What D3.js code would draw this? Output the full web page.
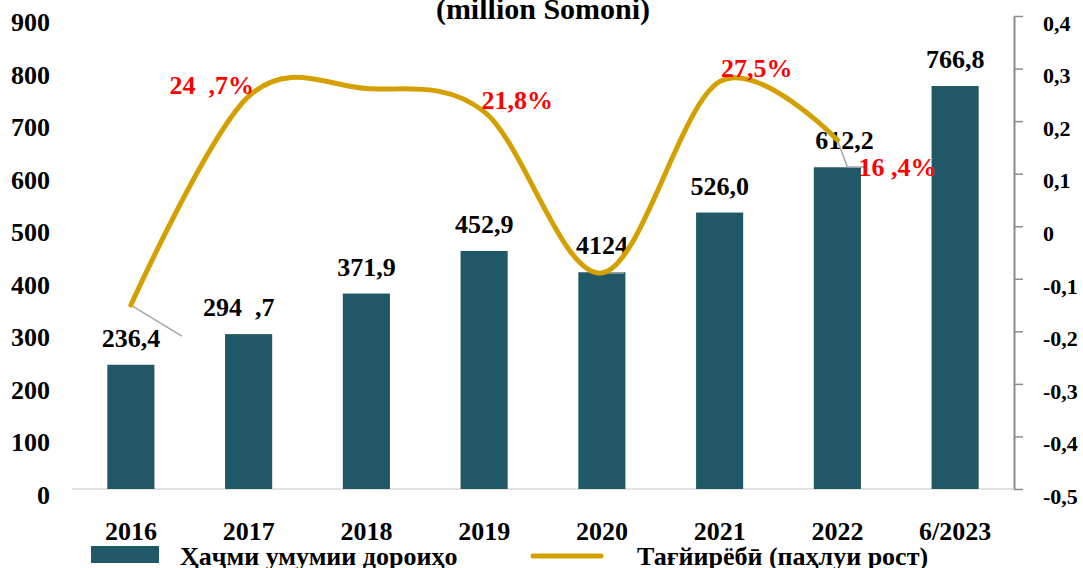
<!DOCTYPE html>
<html>
<head>
<meta charset="utf-8">
<script src="https://cdn.jsdelivr.net/npm/d3@7"></script>
<style>
  body { margin: 0; background: #fff; }
  svg { display: block; font-family: "Liberation Serif", "Times New Roman", "DejaVu Serif", serif; }
  text { white-space: pre; }
</style>
</head>
<body>
<svg id="chart" width="1083" height="568"></svg>
<script>
// Data
const years = ['2016', '2017', '2018', '2019', '2020', '2021', '2022', '6/2023'];
const assets = [236.4, 294.7, 371.9, 452.9, 412.4, 526.0, 612.2, 766.8];
const assetLabels = ['236,4', '294  ,7', '371,9', '452,9', '4124', '526,0', '612,2', '766,8'];
const growth = [-0.15, 0.247, 0.262, 0.218, -0.089, 0.275, 0.164, null];
const growthLabels = [null, '24  ,7%', null, '21,8%', null, '27,5%', '16 ,4%', null];
const leftTicks = [0, 100, 200, 300, 400, 500, 600, 700, 800, 900];
const rightTicks = [-0.5, -0.4, -0.3, -0.2, -0.1, 0, 0.1, 0.2, 0.3, 0.4];
const legendNames = ['Ҳаҷми умумии дороиҳо', 'Тағйирёбӣ (паҳлуи рост)'];

const barColor = '#215868';
const lineColor = '#d4a000';
const leaderColor = '#a6a6a6';

const svg = d3.select('#chart');
const margin = { top: 16, right: 69, bottom: 79, left: 72 };
const width = 1083, height = 568;
const plotBottom = height - margin.bottom;
const plotRight = width - margin.right;

const x = d3.scaleBand()
    .domain(years)
    .range([margin.left, plotRight])
    .paddingInner(0.6)
    .paddingOuter(0.3);

const yLeft = d3.scaleLinear().domain([0, 900]).range([plotBottom, margin.top]);
const yRight = d3.scaleLinear().domain([-0.5, 0.4]).range([plotBottom, margin.top]);

// Title (cut off at the top like the source)
svg.append('text')
    .attr('x', 543).attr('y', 19)
    .attr('text-anchor', 'middle')
    .style('font-size', '30px').style('font-weight', 'bold')
    .text('(million Somoni)');

// Left axis labels (no line)
svg.append('g')
    .selectAll('text')
    .data(leftTicks)
    .enter()
    .append('text')
    .attr('x', 50)
    .attr('y', d => yLeft(d) + 15)
    .attr('text-anchor', 'end')
    .style('font-size', '26px').style('font-weight', 'bold')
    .text(d => d);

// Right axis
const rightAxis = d3.axisRight(yRight)
    .tickValues(rightTicks)
    .tickSize(9)
    .tickSizeOuter(0)
    .tickPadding(20)
    .tickFormat(d => Math.abs(d) < 1e-9 ? '0' : d.toFixed(1).replace('.', ','));

const ra = svg.append('g')
    .attr('transform', `translate(${plotRight},0)`)
    .call(rightAxis);
ra.select('.domain').attr('stroke', '#8c8c8c').attr('stroke-width', 2);
ra.selectAll('.tick line').attr('stroke', '#8c8c8c').attr('stroke-width', 1.5);
ra.selectAll('.tick text')
    .attr('text-anchor', 'start')
    .attr('dy', '0.65em')
    .attr('fill', '#000')
    .style('font-size', '22px').style('font-weight', 'bold')
    .style('font-family', '"Liberation Serif", "Times New Roman", serif');

// Baseline
svg.append('line')
    .attr('x1', margin.left).attr('x2', plotRight)
    .attr('y1', yLeft(0)).attr('y2', yLeft(0))
    .attr('stroke', '#d9d9d9').attr('stroke-width', 1.5);

// Bars
svg.append('g')
    .selectAll('rect')
    .data(assets)
    .enter()
    .append('rect')
    .attr('x', (d, i) => x(years[i]))
    .attr('y', d => yLeft(d))
    .attr('width', x.bandwidth())
    .attr('height', d => yLeft(0) - yLeft(d))
    .attr('fill', barColor);

// Bar value labels
svg.append('g')
    .selectAll('text')
    .data(assets)
    .enter()
    .append('text')
    .attr('x', (d, i) => x(years[i]) + x.bandwidth() / 2 + (i === 1 ? -10 : i === 6 ? 7 : 0))
    .attr('y', d => yLeft(d) - 18)
    .attr('text-anchor', 'middle')
    .style('font-size', '26px').style('font-weight', 'bold')
    .text((d, i) => assetLabels[i]);

// X labels
svg.append('g')
    .selectAll('text')
    .data(years)
    .enter()
    .append('text')
    .attr('x', d => x(d) + x.bandwidth() / 2)
    .attr('y', 540)
    .attr('text-anchor', 'middle')
    .style('font-size', '26px').style('font-weight', 'bold')
    .text(d => d);

// Growth line (smoothed)
const pts = growth.map((g, i) => g === null ? null : [x(years[i]) + x.bandwidth() / 2, yRight(g)]);
const linePts = pts.filter(p => p);

// Leader lines of data labels
const leaders = svg.append('g').attr('fill', 'none').attr('stroke', leaderColor).attr('stroke-width', 1.5);
leaders.append('path').attr('d', d3.line()([pts[0], [pts[0][0] + 51, pts[0][1] + 31]]));
leaders.append('path').attr('d', d3.line()([pts[4], [pts[4][0] + 22, pts[4][1]]]));
leaders.append('path').attr('d', d3.line()([pts[6], [pts[6][0] + 10, pts[6][1] + 27], [pts[6][0] + 28, pts[6][1] + 27]]));

svg.append('path')
    .datum(linePts)
    .attr('fill', 'none')
    .attr('stroke', lineColor)
    .attr('stroke-width', 5)
    .attr('stroke-linecap', 'round')
    .attr('d', d3.line().curve(d3.curveCardinal.tension(0)));

// Growth labels
const growthOffsets = { 1: [-37, 9], 3: [33, 8], 5: [37, 6], 6: [60, 47] };
svg.append('g')
    .selectAll('text')
    .data(growthLabels.map((t, i) => ({ t, i })).filter(d => d.t))
    .enter()
    .append('text')
    .attr('x', d => pts[d.i][0] + growthOffsets[d.i][0])
    .attr('y', d => pts[d.i][1] + growthOffsets[d.i][1] - 11)
    .attr('text-anchor', 'middle')
    .attr('fill', '#ff0000')
    .style('font-size', '26px').style('font-weight', 'bold')
    .text(d => d.t);

// Legend
const legend = svg.append('g');
legend.append('rect')
    .attr('x', 91).attr('y', 546).attr('width', 68).attr('height', 17)
    .attr('fill', barColor);
legend.append('text')
    .attr('x', 180).attr('y', 565)
    .style('font-size', '26px').style('font-weight', 'bold')
    .text(legendNames[0]);
legend.append('line')
    .attr('x1', 533).attr('x2', 601).attr('y1', 556).attr('y2', 556)
    .attr('stroke', lineColor).attr('stroke-width', 5).attr('stroke-linecap', 'round');
legend.append('text')
    .attr('x', 637).attr('y', 565)
    .style('font-size', '26px').style('font-weight', 'bold')
    .text(legendNames[1]);

// Source line, almost fully cut off at the bottom edge
svg.append('text')
    .attr('x', 28).attr('y', 588)
    .style('font-size', '26px')
    .attr('fill', '#404040')
    .text('Сарчашма:');
</script>
</body>
</html>
